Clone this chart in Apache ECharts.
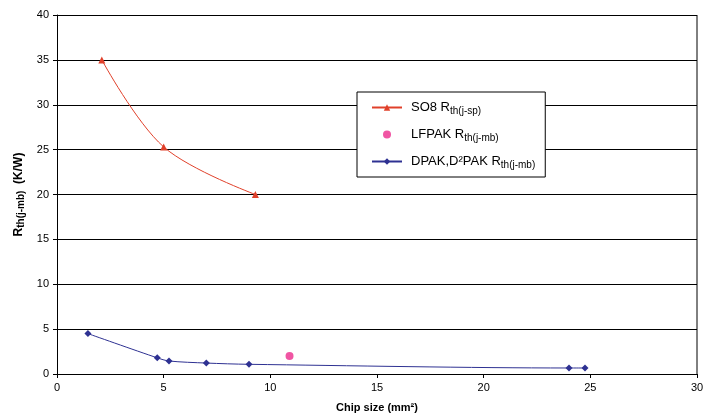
<!DOCTYPE html>
<html>
<head>
<meta charset="utf-8">
<script src="https://cdn.jsdelivr.net/npm/echarts@6/dist/echarts.min.js"></script>
<style>
html, body { margin: 0; padding: 0; background: #fff; }
#chart { width: 718px; height: 419px; }
</style>
</head>
<body>
<div id="chart"></div>
<script>
// chip size (mm2) vs thermal resistance (K/W)
var so8X = [2.1, 5.0, 9.3];
var so8Y = [35, 25.3, 20];
var lfpakX = [10.9];
var lfpakY = [2.0];
var dpakX = [1.45, 4.7, 5.25, 7.0, 9.0, 24.0, 24.75];
var dpakY = [4.5, 1.8, 1.45, 1.22, 1.08, 0.67, 0.67];

function pairs(xs, ys) {
    return xs.map(function (x, i) { return [x, ys[i]]; });
}

var myChart = echarts.init(document.getElementById('chart'));

var font = 'Liberation Sans, Arial, sans-serif';
var sub = { fontSize: 10, verticalAlign: 'bottom', padding: [7, 0, 0, 0], fontFamily: font, color: '#000' };

var option = {
    animation: false,
    textStyle: { fontFamily: font },
    grid: { left: 57, right: 21, top: 15, bottom: 45 },
    legend: {
        orient: 'vertical',
        left: 357,
        top: 92,
        width: 172,
        padding: [9, 10, 7, 14],
        itemGap: 12,
        itemWidth: 30,
        itemHeight: 8,
        backgroundColor: '#fff',
        borderColor: '#000',
        borderWidth: 1,
        textStyle: {
            fontSize: 13,
            color: '#000',
            padding: [0, 0, 0, 4],
            rich: { sub: sub }
        },
        formatter: function (name) {
            if (name === 'SO8') return 'SO8 R{sub|th(j-sp)}';
            if (name === 'LFPAK') return 'LFPAK R{sub|th(j-mb)}';
            return 'DPAK,D²PAK R{sub|th(j-mb)}';
        },
        data: ['SO8', 'LFPAK', 'DPAK']
    },
    xAxis: {
        type: 'value',
        min: 0,
        max: 30,
        interval: 5,
        name: 'Chip size (mm²)',
        nameLocation: 'middle',
        nameGap: 28,
        nameTextStyle: { fontSize: 11, fontWeight: 'bold', color: '#000' },
        axisLine: { show: true, lineStyle: { color: '#000', width: 1 } },
        axisTick: { show: true, length: 4, lineStyle: { color: '#000' } },
        axisLabel: { fontSize: 11, color: '#000', margin: 8 },
        splitLine: { show: false }
    },
    yAxis: {
        type: 'value',
        min: 0,
        max: 40,
        interval: 5,
        name: 'R{s|th(j-mb)}  (K/W)',
        nameLocation: 'middle',
        nameGap: 31,
        nameTextStyle: {
            fontSize: 12,
            fontWeight: 'bold',
            color: '#000',
            rich: { s: { fontSize: 10, fontWeight: 'bold', verticalAlign: 'bottom', padding: [5, 0, 0, 0], color: '#000' } }
        },
        axisLine: { show: true, lineStyle: { color: '#000', width: 1 } },
        axisTick: { show: true, length: 4, inside: false, lineStyle: { color: '#000' } },
        axisLabel: { fontSize: 11, color: '#000', margin: 8 },
        splitLine: { show: true, lineStyle: { color: '#000', width: 1 } }
    },
    series: [
        {
            name: 'SO8',
            type: 'line',
            smooth: 0.35,
            data: pairs(so8X, so8Y),
            symbol: 'triangle',
            symbolSize: 7,
            itemStyle: { color: '#e0402a' },
            lineStyle: { color: '#e0402a', width: 1 }
        },
        {
            name: 'LFPAK',
            type: 'scatter',
            data: pairs(lfpakX, lfpakY),
            symbol: 'circle',
            symbolSize: 8,
            itemStyle: { color: '#ec2a8c' }
        },
        {
            name: 'DPAK',
            type: 'line',
            smooth: 0.3,
            data: pairs(dpakX, dpakY),
            symbol: 'diamond',
            symbolSize: 7,
            itemStyle: { color: '#2e3192' },
            lineStyle: { color: '#2e3192', width: 1 }
        }
    ]
};

myChart.setOption(option);

// right border of plot area
myChart.setOption({
    graphic: [{
        type: 'line',
        shape: { x1: 697, y1: 15, x2: 697, y2: 374 },
        style: { stroke: '#000', lineWidth: 1 }
    }]
});
</script>
</body>
</html>
